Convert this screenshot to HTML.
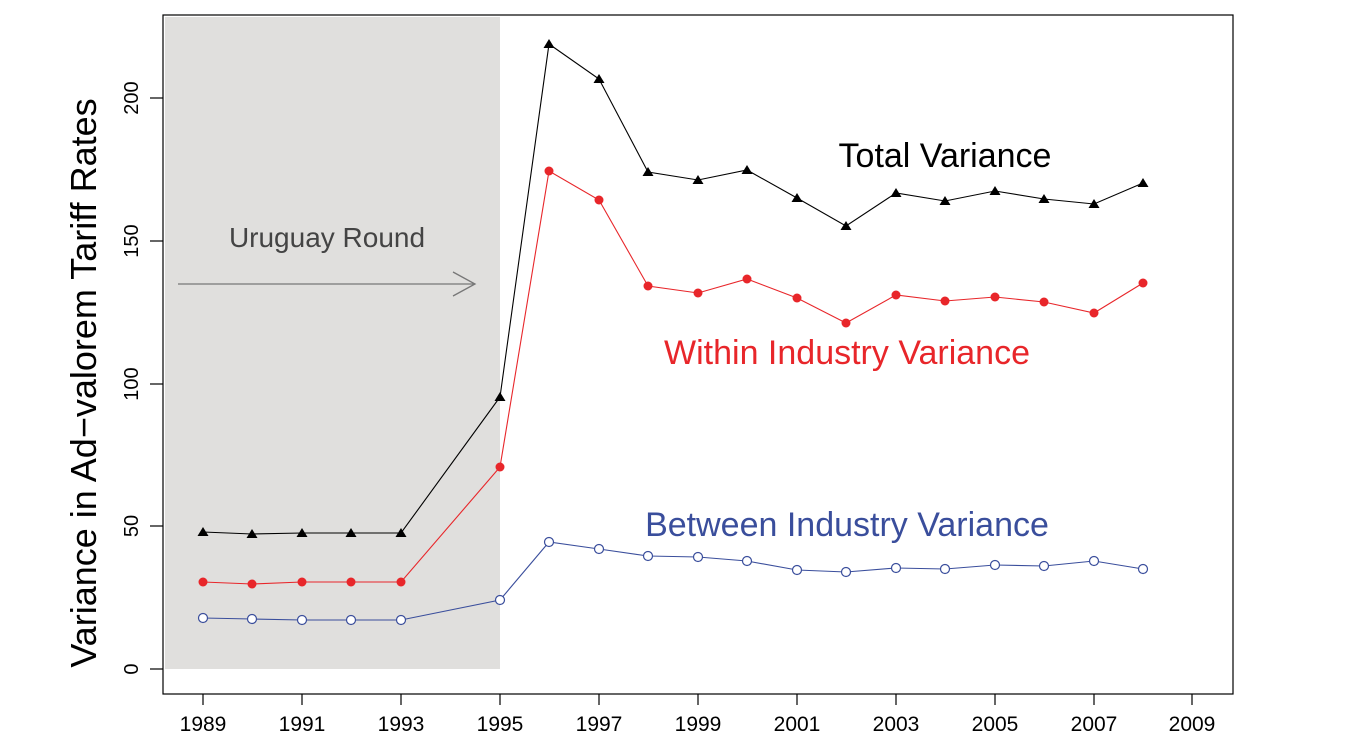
<!DOCTYPE html>
<html><head><meta charset="utf-8"><style>body{margin:0;background:#fff}svg{display:block}</style></head><body>
<svg width="1352" height="754" xmlns="http://www.w3.org/2000/svg" font-family="Liberation Sans, sans-serif">
<rect x="165" y="17" width="335" height="652" fill="#e0dfdd"/>
<rect x="163" y="15" width="1070" height="679" fill="none" stroke="#000" stroke-width="1.2"/>
<g stroke="#000" stroke-width="1.2">
<line x1="150" y1="669" x2="163" y2="669"/><line x1="150" y1="526" x2="163" y2="526"/><line x1="150" y1="384" x2="163" y2="384"/><line x1="150" y1="241" x2="163" y2="241"/><line x1="150" y1="98" x2="163" y2="98"/>
</g>
<g font-size="20" text-anchor="middle">
<text transform="translate(138,669) rotate(-90)">0</text>
<text transform="translate(138,526) rotate(-90)">50</text>
<text transform="translate(138,384) rotate(-90)">100</text>
<text transform="translate(138,241) rotate(-90)">150</text>
<text transform="translate(138,98) rotate(-90)">200</text>
</g>
<g font-size="21" text-anchor="middle">
<text x="203" y="731">1989</text><text x="302" y="731">1991</text><text x="401" y="731">1993</text><text x="500" y="731">1995</text><text x="599" y="731">1997</text><text x="698" y="731">1999</text><text x="797" y="731">2001</text><text x="896" y="731">2003</text><text x="995" y="731">2005</text><text x="1094" y="731">2007</text><text x="1192" y="731">2009</text>
</g>
<g stroke="#000" stroke-width="1.2">
<line x1="203" y1="694" x2="203" y2="705"/><line x1="302" y1="694" x2="302" y2="705"/><line x1="401" y1="694" x2="401" y2="705"/><line x1="500" y1="694" x2="500" y2="705"/><line x1="599" y1="694" x2="599" y2="705"/><line x1="698" y1="694" x2="698" y2="705"/><line x1="797" y1="694" x2="797" y2="705"/><line x1="896" y1="694" x2="896" y2="705"/><line x1="995" y1="694" x2="995" y2="705"/><line x1="1094" y1="694" x2="1094" y2="705"/><line x1="1192" y1="694" x2="1192" y2="705"/>
</g>
<text transform="translate(96,383) rotate(-90)" font-size="36" text-anchor="middle">Variance in Ad−valorem Tariff Rates</text>
<text x="327" y="247" font-size="28" fill="#444" text-anchor="middle">Uruguay Round</text>
<line x1="178" y1="284" x2="475" y2="284" stroke="#777" stroke-width="1.3"/>
<polyline points="453,272 475,284 453,296" fill="none" stroke="#777" stroke-width="1.3"/>
<text x="945" y="167" font-size="34" text-anchor="middle">Total Variance</text>
<text x="847" y="364" font-size="34" fill="#e8262a" text-anchor="middle">Within Industry Variance</text>
<text x="847" y="536" font-size="34" fill="#3a4e9c" text-anchor="middle">Between Industry Variance</text>
<polyline fill="none" stroke="#000" stroke-width="1.1" points="203,532 252,534 302,533 351,533 401,533 500,397 549,44 599,79 648,172 698,180 747,170 797,198 846,226 896,193 945,201 995,191 1044,199 1094,204 1143,183"/>
<g fill="#000">
<path d="M203,527l5.5,9h-11z M252,529l5.5,9h-11z M302,528l5.5,9h-11z M351,528l5.5,9h-11z M401,528l5.5,9h-11z M500,392l5.5,9h-11z M549,39l5.5,9h-11z M599,74l5.5,9h-11z M648,167l5.5,9h-11z M698,175l5.5,9h-11z M747,165l5.5,9h-11z M797,193l5.5,9h-11z M846,221l5.5,9h-11z M896,188l5.5,9h-11z M945,196l5.5,9h-11z M995,186l5.5,9h-11z M1044,194l5.5,9h-11z M1094,199l5.5,9h-11z M1143,178l5.5,9h-11z"/>
</g>
<polyline fill="none" stroke="#e8262a" stroke-width="1.1" points="203,582 252,584 302,582 351,582 401,582 500,467 549,171 599,200 648,286 698,293 747,279 797,298 846,323 896,295 945,301 995,297 1044,302 1094,313 1143,283"/>
<g fill="#e8262a">
<circle cx="203" cy="582" r="4.5"/><circle cx="252" cy="584" r="4.5"/><circle cx="302" cy="582" r="4.5"/><circle cx="351" cy="582" r="4.5"/><circle cx="401" cy="582" r="4.5"/><circle cx="500" cy="467" r="4.5"/><circle cx="549" cy="171" r="4.5"/><circle cx="599" cy="200" r="4.5"/><circle cx="648" cy="286" r="4.5"/><circle cx="698" cy="293" r="4.5"/><circle cx="747" cy="279" r="4.5"/><circle cx="797" cy="298" r="4.5"/><circle cx="846" cy="323" r="4.5"/><circle cx="896" cy="295" r="4.5"/><circle cx="945" cy="301" r="4.5"/><circle cx="995" cy="297" r="4.5"/><circle cx="1044" cy="302" r="4.5"/><circle cx="1094" cy="313" r="4.5"/><circle cx="1143" cy="283" r="4.5"/>
</g>
<polyline fill="none" stroke="#3a4e9c" stroke-width="1.1" points="203,618 252,619 302,620 351,620 401,620 500,600 549,542 599,549 648,556 698,557 747,561 797,570 846,572 896,568 945,569 995,565 1044,566 1094,561 1143,569"/>
<g fill="#fff" stroke="#3a4e9c" stroke-width="1.2">
<circle cx="203" cy="618" r="4.5"/><circle cx="252" cy="619" r="4.5"/><circle cx="302" cy="620" r="4.5"/><circle cx="351" cy="620" r="4.5"/><circle cx="401" cy="620" r="4.5"/><circle cx="500" cy="600" r="4.5"/><circle cx="549" cy="542" r="4.5"/><circle cx="599" cy="549" r="4.5"/><circle cx="648" cy="556" r="4.5"/><circle cx="698" cy="557" r="4.5"/><circle cx="747" cy="561" r="4.5"/><circle cx="797" cy="570" r="4.5"/><circle cx="846" cy="572" r="4.5"/><circle cx="896" cy="568" r="4.5"/><circle cx="945" cy="569" r="4.5"/><circle cx="995" cy="565" r="4.5"/><circle cx="1044" cy="566" r="4.5"/><circle cx="1094" cy="561" r="4.5"/><circle cx="1143" cy="569" r="4.5"/>
</g>
</svg>
</body></html>
